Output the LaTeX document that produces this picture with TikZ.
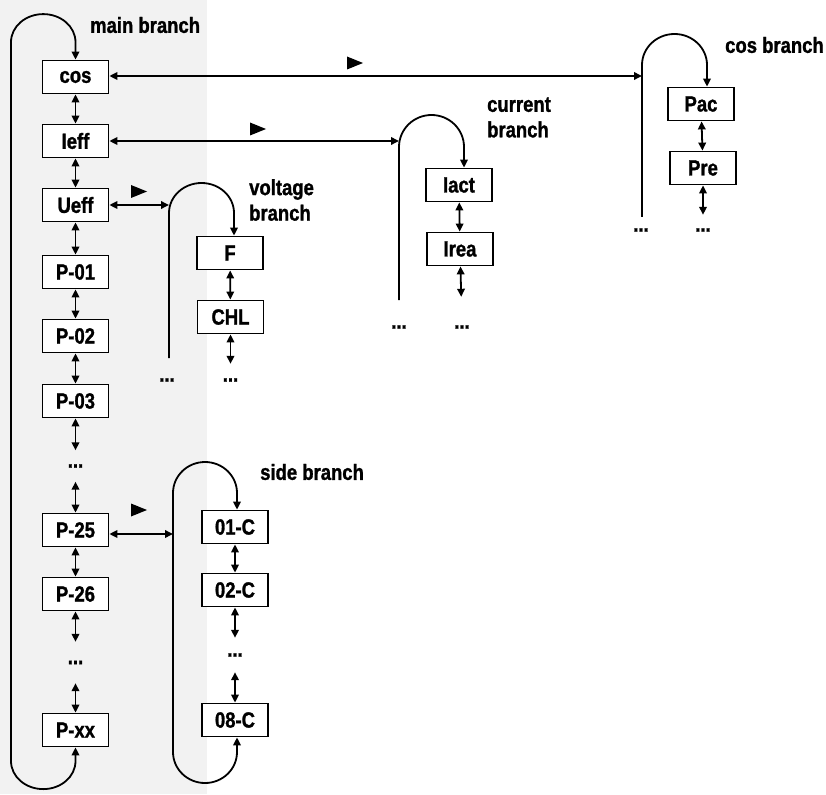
\documentclass[tikz,border=0pt]{standalone}
\usepackage{fontspec}
\setmainfont{Liberation Sans}[FakeStretch=0.84,BoldFeatures={FakeBold=1.2}]
\usetikzlibrary{arrows.meta}
\definecolor{bggray}{HTML}{F2F2F2}
\newcommand\myfont{\fontsize{22}{26}\selectfont\bfseries}
\begin{document}
\begin{tikzpicture}[x=1pt,y=-1pt,
  >={Triangle[length=8pt,width=7.5pt]},
  box/.style={draw,line width=1.8pt,fill=white,minimum width=66pt,minimum height=33pt,inner sep=0pt,font=\myfont},
  lbl/.style={anchor=west,inner sep=0pt,align=left,font=\myfont},
  dotn/.style={inner sep=0pt,font=\myfont,minimum width=20pt},
  con/.style={line width=1.8pt},
  tri/.style={fill=black}
]
\useasboundingbox (0,0) rectangle (826,794);
\fill[bggray] (0,0) rectangle (207,794);

% main branch
\node[box] (cos)  at (75.5,77)  {cos};
\node[box] (Ieff) at (75.5,141) {Ieff};
\node[box] (Ueff) at (75.5,205) {Ueff};
\node[box] (P01)  at (75.5,272) {P-01};
\node[box] (P02)  at (75.5,336) {P-02};
\node[box] (P03)  at (75.5,401) {P-03};
\node[dotn,minimum height=31pt] (md1) at (75.5,466) {...};
\node[box] (P25)  at (75.5,530) {P-25};
\node[box] (P26)  at (75.5,594) {P-26};
\node[dotn,minimum height=41pt] (md2) at (75.5,662.5) {...};
\node[box] (Pxx)  at (75.5,730) {P-xx};
\node[lbl] (mlab) at (90,25) {main branch};

\draw[con,<->] (cos) -- (Ieff);
\draw[con,<->] (Ieff) -- (Ueff);
\draw[con,<->] (Ueff) -- (P01);
\draw[con,<->] (P01) -- (P02);
\draw[con,<->] (P02) -- (P03);
\draw[con,<->] (P03) -- (md1);
\draw[con,<->] (md1) -- (P25);
\draw[con,<->] (P25) -- (P26);
\draw[con,<->] (P26) -- (md2);
\draw[con,<->] (md2) -- (Pxx);
\draw[con,<->] (cos.north) -- ++(0,-17.5)
  arc[start angle=0,end angle=180,x radius=32.25pt,y radius=28pt]
  -- ++(0,719)
  arc[start angle=180,end angle=360,x radius=32.25pt,y radius=28pt]
  -- (Pxx.south);

% voltage branch
\coordinate (vtop) at (169,213);
\coordinate (vbot) at (169,358);
\coordinate (vr) at (234,213);
\node[box] (F)   at (230,253) {F};
\node[box] (CHL) at (230.5,317) {CHL};
\node[dotn,minimum height=32pt] (vd1) at (167,380) {...};
\node[dotn,minimum height=32pt] (vd2) at (230.5,380) {...};
\node[lbl] (vlab) at (249,200) {voltage\\[-0.5pt]branch};
\draw[con,->] (vbot) -- (vtop)
  arc[start angle=180,end angle=0,x radius=32.5pt,y radius=30pt]
  -- (vr |- F.north);
\draw[con,<->] (F) -- (CHL);
\draw[con,<->] (CHL) -- (vd2);
\draw[con,<->] (Ueff.east) -- (Ueff.east -| vtop);
\fill[tri] (131,185) -- (147,191.5) -- (131,198) -- cycle;

% current branch
\coordinate (ctop) at (399,147);
\coordinate (cbot) at (399,300);
\coordinate (cr) at (464,147);
\node[box] (Iact) at (459,185) {Iact};
\node[box] (Irea) at (460,249) {Irea};
\node[dotn,minimum height=34pt] (cd1) at (399,327) {...};
\node[dotn,minimum height=60pt] (cd2) at (462,327) {...};
\node[lbl] (clab) at (487,117.5) {current\\[-0.5pt]branch};
\draw[con,->] (cbot) -- (ctop)
  arc[start angle=180,end angle=0,x radius=32.5pt,y radius=32pt]
  -- (cr |- Iact.north);
\draw[con,<->] (Iact) -- (Irea);
\draw[con,<->] (Irea) -- (cd2);
\draw[con,<->] (Ieff.east) -- (Ieff.east -| ctop);
\fill[tri] (250,122.5) -- (266,129) -- (250,135.5) -- cycle;

% cos branch
\coordinate (ktop) at (642,65);
\coordinate (kbot) at (642,217);
\coordinate (kr) at (707,65);
\node[box] (Pac) at (701,104) {Pac};
\node[box] (Pre) at (703,168) {Pre};
\node[dotn,minimum height=26pt] (kd1) at (641,230) {...};
\node[dotn,minimum height=30pt] (kd2) at (703,230) {...};
\node[lbl] (klab) at (725,45) {cos branch};
\draw[con,->] (kbot) -- (ktop)
  arc[start angle=180,end angle=0,x radius=32.5pt,y radius=31pt]
  -- (kr |- Pac.north);
\draw[con,<->] (Pac) -- (Pre);
\draw[con,<->] (Pre) -- (kd2);
\draw[con,<->] ([yshift=1pt]cos.east) -- ([yshift=1pt]cos.east -| ktop);
\fill[tri] (347,56.5) -- (363,63) -- (347,69.5) -- cycle;

% side branch
\coordinate (stop) at (173,493);
\coordinate (sr) at (237,752);
\node[box] (C01) at (235,527) {01-C};
\node[box] (C02) at (235,590) {02-C};
\node[dotn,minimum height=34pt] (sd) at (235,655) {...};
\node[box] (C08) at (235,720) {08-C};
\node[lbl] (slab) at (260,472) {side branch};
\draw[con,<->] (sr |- C08.south) -- (sr)
  arc[start angle=0,end angle=-180,x radius=32pt,y radius=31pt]
  -- (stop)
  arc[start angle=180,end angle=0,x radius=32pt,y radius=31pt]
  -- (sr |- C01.north);
\draw[con,<->] (C01) -- (C02);
\draw[con,<->] (C02) -- (sd);
\draw[con,<->] (sd) -- (C08);
\draw[con,<->] ([yshift=-4pt]P25.east) -- ([yshift=-4pt]P25.east -| stop);
\fill[tri] (131,503.5) -- (147,510) -- (131,516.5) -- cycle;
\end{tikzpicture}
\end{document}
